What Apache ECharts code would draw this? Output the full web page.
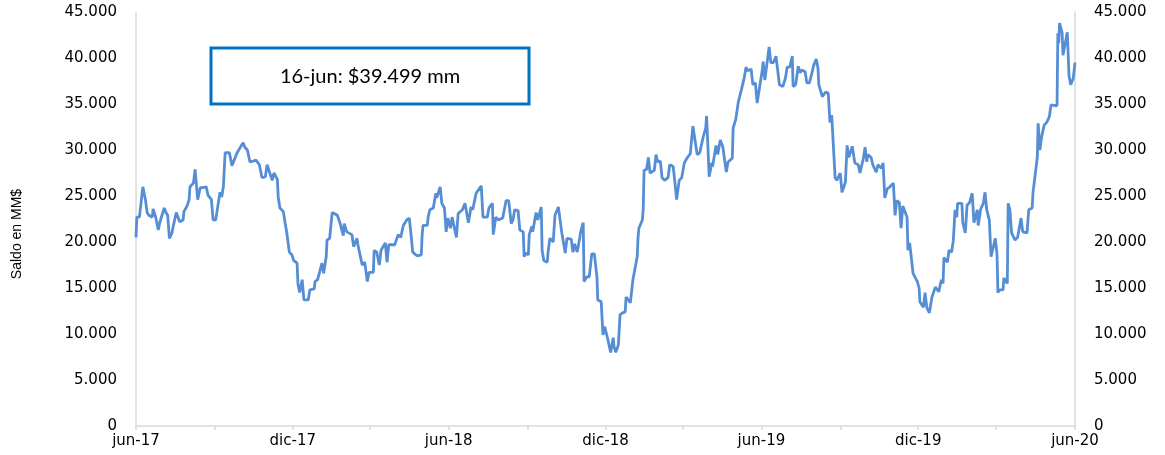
<!DOCTYPE html>
<html>
<head>
<meta charset="utf-8">
<script src="https://cdn.jsdelivr.net/npm/echarts@6/dist/echarts.min.js"></script>
<style>
html,body{margin:0;padding:0;background:#fff;}
#chart{width:1165px;height:455px;}
</style>
</head>
<body>
<div id="chart"></div>
<script>
// Axis range (dates) and labels
const startDate = '2017-06-16';
const endDate = '2020-06-16';
const monthNames = ['ene','feb','mar','abr','may','jun','jul','ago','sep','oct','nov','dic'];
const yTicks = [0, 5000, 10000, 15000, 20000, 25000, 30000, 35000, 40000, 45000];
const yAxisTitle = 'Saldo en MM$';
const noteText = '16-jun: $39.499 mm';

// Series: observation dates and balances (MM$)
const obsDates = [
'2017-06-16','2017-06-17','2017-06-20','2017-06-24','2017-06-27','2017-06-29','2017-07-01','2017-07-05','2017-07-06','2017-07-09',
'2017-07-12','2017-07-14','2017-07-16','2017-07-19','2017-07-21','2017-07-23','2017-07-25','2017-07-28','2017-07-29','2017-08-02',
'2017-08-04','2017-08-06','2017-08-10','2017-08-11','2017-08-15','2017-08-17','2017-08-18','2017-08-22','2017-08-24','2017-08-26',
'2017-08-27','2017-08-30','2017-09-02','2017-09-06','2017-09-08','2017-09-12','2017-09-14','2017-09-17','2017-09-20','2017-09-22',
'2017-09-24','2017-09-26','2017-09-28','2017-09-30','2017-10-03','2017-10-06','2017-10-08','2017-10-12','2017-10-14','2017-10-19',
'2017-10-21','2017-10-24','2017-10-27','2017-10-31','2017-11-03','2017-11-07','2017-11-10','2017-11-14','2017-11-16','2017-11-18',
'2017-11-22','2017-11-24','2017-11-28','2017-11-29','2017-12-01','2017-12-05','2017-12-07','2017-12-09','2017-12-12','2017-12-15',
'2017-12-17','2017-12-21','2017-12-22','2017-12-24','2017-12-27','2017-12-29','2018-01-03','2018-01-05','2018-01-10','2018-01-11',
'2018-01-14','2018-01-19','2018-01-21','2018-01-24','2018-01-25','2018-01-28','2018-01-31','2018-02-06','2018-02-09','2018-02-13',
'2018-02-14','2018-02-17','2018-02-23','2018-02-25','2018-03-01','2018-03-02','2018-03-04','2018-03-07','2018-03-10','2018-03-13',
'2018-03-15','2018-03-20','2018-03-21','2018-03-24','2018-03-27','2018-03-29','2018-04-03','2018-04-05','2018-04-07','2018-04-14',
'2018-04-18','2018-04-21','2018-04-24','2018-04-28','2018-05-01','2018-05-03','2018-05-05','2018-05-10','2018-05-15','2018-05-16',
'2018-05-17','2018-05-22','2018-05-23','2018-05-25','2018-05-29','2018-06-01','2018-06-02','2018-06-06','2018-06-08','2018-06-11',
'2018-06-13','2018-06-15','2018-06-18','2018-06-20','2018-06-22','2018-06-25','2018-06-27','2018-07-02','2018-07-05','2018-07-09',
'2018-07-12','2018-07-14','2018-07-18','2018-07-20','2018-07-24','2018-07-26','2018-07-31','2018-08-02','2018-08-06','2018-08-07',
'2018-08-10','2018-08-13','2018-08-18','2018-08-22','2018-08-25','2018-08-28','2018-08-30','2018-09-01','2018-09-05','2018-09-07',
'2018-09-11','2018-09-12','2018-09-14','2018-09-17','2018-09-18','2018-09-21','2018-09-22','2018-09-26','2018-09-28','2018-10-02',
'2018-10-03','2018-10-05','2018-10-09','2018-10-10','2018-10-12','2018-10-16','2018-10-18','2018-10-22','2018-10-24','2018-10-26',
'2018-10-30','2018-11-01','2018-11-06','2018-11-08','2018-11-10','2018-11-13','2018-11-16','2018-11-17','2018-11-20','2018-11-21',
'2018-11-24','2018-11-27','2018-11-30','2018-12-03','2018-12-06','2018-12-07','2018-12-11','2018-12-13','2018-12-15','2018-12-18',
'2018-12-20','2018-12-22','2018-12-25','2018-12-26','2018-12-28','2018-12-31','2019-01-02','2019-01-05','2019-01-08','2019-01-09',
'2019-01-11','2019-01-14','2019-01-17','2019-01-22','2019-01-23','2019-01-24','2019-01-28','2019-01-29','2019-01-30','2019-02-02',
'2019-02-04','2019-02-06','2019-02-08','2019-02-11','2019-02-13','2019-02-15','2019-02-18','2019-02-20','2019-02-23','2019-02-27',
'2019-03-01','2019-03-05','2019-03-07','2019-03-09','2019-03-12','2019-03-15','2019-03-18','2019-03-21','2019-03-25','2019-03-28',
'2019-03-30','2019-04-02','2019-04-05','2019-04-09','2019-04-12','2019-04-13','2019-04-16','2019-04-19','2019-04-20','2019-04-24',
'2019-04-26','2019-04-29','2019-05-02','2019-05-06','2019-05-08','2019-05-13','2019-05-14','2019-05-17','2019-05-20','2019-05-24',
'2019-05-27','2019-05-29','2019-05-31','2019-06-04','2019-06-06','2019-06-09','2019-06-11','2019-06-13','2019-06-14','2019-06-17',
'2019-06-18','2019-06-20','2019-06-23','2019-06-25','2019-06-27','2019-06-30','2019-07-03','2019-07-07','2019-07-11','2019-07-14',
'2019-07-16','2019-07-19','2019-07-22','2019-07-23','2019-07-26','2019-07-29','2019-07-31','2019-08-02','2019-08-06','2019-08-08',
'2019-08-11','2019-08-14','2019-08-16','2019-08-19','2019-08-21','2019-08-22','2019-08-26','2019-08-28','2019-08-30','2019-09-02',
'2019-09-04','2019-09-06','2019-09-08','2019-09-10','2019-09-12','2019-09-16','2019-09-18','2019-09-22','2019-09-24','2019-09-26',
'2019-09-30','2019-10-01','2019-10-03','2019-10-07','2019-10-09','2019-10-13','2019-10-15','2019-10-17','2019-10-18','2019-10-22',
'2019-10-24','2019-10-25','2019-10-28','2019-10-30','2019-11-03','2019-11-05','2019-11-07','2019-11-10','2019-11-13','2019-11-17',
'2019-11-19','2019-11-21','2019-11-24','2019-11-26','2019-11-28','2019-12-03','2019-12-04','2019-12-06','2019-12-10','2019-12-15',
'2019-12-17','2019-12-18','2019-12-22','2019-12-24','2019-12-26','2019-12-29','2020-01-01','2020-01-05','2020-01-07','2020-01-09',
'2020-01-12','2020-01-14','2020-01-15','2020-01-19','2020-01-21','2020-01-24','2020-01-26','2020-01-28','2020-01-30','2020-01-31',
'2020-02-05','2020-02-06','2020-02-09','2020-02-11','2020-02-14','2020-02-17','2020-02-19','2020-02-23','2020-02-24','2020-02-27',
'2020-03-01','2020-03-03','2020-03-05','2020-03-08','2020-03-10','2020-03-12','2020-03-15','2020-03-17','2020-03-18','2020-03-20',
'2020-03-24','2020-03-25','2020-03-29','2020-03-30','2020-04-01','2020-04-03','2020-04-07','2020-04-10','2020-04-14','2020-04-16',
'2020-04-21','2020-04-23','2020-04-27','2020-04-28','2020-04-29','2020-05-03','2020-05-04','2020-05-06','2020-05-08','2020-05-11',
'2020-05-14','2020-05-17','2020-05-19','2020-05-21','2020-05-26','2020-05-27','2020-05-28','2020-05-29','2020-06-01','2020-06-02',
'2020-06-04','2020-06-07','2020-06-08','2020-06-09','2020-06-11','2020-06-14','2020-06-16'
];
const saldo = [
20500,22700,22700,26000,24600,23200,22900,22700,23600,22700,
21300,22200,22000,23700,23200,22900,20400,21000,21500,23200,
22700,22200,22400,23300,24000,24600,26000,26400,27900,27700,
24600,25900,25900,26000,25100,24600,22400,22400,24200,25400,
24900,26000,29700,29700,29700,28300,28200,29700,29700,30800,
30300,30000,28700,28800,28900,28400,27000,27100,28400,28400,
26700,27500,26800,24900,23700,23300,22100,21000,18900,18600,
18000,17700,15500,14500,15900,13700,13700,14800,14900,15700,
15900,17700,16600,18400,20200,20400,23200,22900,22100,20700,
22000,21100,20800,19500,20400,19700,19700,17500,17800,15700,
16700,16700,19100,18900,17500,19100,19900,17800,19700,19700,
20800,20500,21800,22400,22600,20800,18900,18500,18600,20800,
21800,21800,22700,23500,23700,25300,24800,26000,24200,23700,
21100,22600,21500,22700,22900,20500,23100,23500,24200,22100,
23800,23500,25300,25400,26100,22700,22700,23700,24200,20800,
22700,22400,22600,24500,24500,22000,22400,23500,23400,21300,
21100,18400,18800,18600,20800,21700,21100,23200,22400,23800,
19100,18000,17800,18900,20400,20000,22900,23800,22400,21000,
18800,20400,20300,18900,19800,18900,20500,21100,22100,15700,
16200,16200,18700,18700,16200,13700,13500,9900,10800,9700,
9700,8000,9600,8600,8000,8800,12100,12300,12400,14000,
14200,13400,15900,18400,20500,21500,22400,23500,27800,27900,
29200,27500,27300,27800,29500,28700,28800,27000,26700,27000,
28400,28200,26500,24600,26700,27000,28600,29100,29600,32600,
32400,29500,29700,31400,32400,33700,27100,28600,28200,30500,
29500,31100,30300,27600,28700,29100,32400,33300,35200,36700,
37900,39000,38600,38800,37100,37300,35100,36300,36900,38700,
39600,37600,39800,41200,39500,39500,40200,37100,36900,37800,
39000,39000,40200,36900,37100,39100,38400,38700,38500,37300,
37300,38400,39200,39900,38900,37100,35800,35700,36300,36200,
33000,33800,33800,27000,26700,27500,25400,26500,30500,29200,
30400,30500,28600,28400,27500,29100,30300,28700,29500,29200,
28400,28600,27600,28400,28000,28600,24800,25800,26000,26400,
22900,24500,24300,21500,23900,22700,19100,19900,16600,15700,
15000,13500,12900,14500,12900,12300,14000,15100,15300,14600,
15900,15500,18300,17800,19100,18900,20200,23500,22700,24200,
24200,22100,21000,24000,24300,25300,22100,23500,21800,23600,
24200,25400,23500,22400,18400,18300,20400,18600,14500,14800,
14800,16100,15500,24200,23500,21000,20200,20500,22600,21100,
21000,23500,23700,25400,25400,29200,32900,30000,31400,32700,
33000,33600,34900,34700,34800,42700,41600,43800,42700,40300,
40300,42800,40500,38100,37100,37800,39499
];

// ---- build daily category axis ----
function iso(t){ const d = new Date(t); return d.toISOString().slice(0,10); }
const categories = [];
(function(){
  const s = Date.parse(startDate + 'T00:00:00Z'), e = Date.parse(endDate + 'T00:00:00Z');
  for (let t = s; t <= e; t += 86400000) categories.push(iso(t));
})();
const valueByDate = {};
obsDates.forEach((d, i) => { valueByDate[d] = saldo[i]; });
const seriesData = categories.map(d => (d in valueByDate ? valueByDate[d] : null));

function fmtThousands(v){
  if (v === 0) return '0';
  const k = Math.floor(v / 1000), r = v % 1000;
  return k + '.' + String(r).padStart(3, '0');
}
function isLabelDay(d){ return /-(06|12)-16$/.test(d); }
function isTickDay(d){ return /-(03|06|09|12)-16$/.test(d); }

const axisGray = '#d9d9d9';
const labelFont = { color: '#000', fontFamily: 'DejaVu Sans', fontSize: 15 };

const yBase = {
  type: 'value', min: yTicks[0], max: yTicks[yTicks.length - 1], interval: yTicks[1] - yTicks[0],
  splitLine: { show: false },
  axisTick: { show: false },
  axisLine: { show: true, lineStyle: { color: axisGray, width: 1.5 } },
  axisLabel: Object.assign({ margin: 19, formatter: fmtThousands }, labelFont)
};

const chart = echarts.init(document.getElementById('chart'), null, { renderer: 'canvas' });
chart.setOption({
  animation: false,
  backgroundColor: '#fff',
  grid: { left: 136, right: 90, top: 12, bottom: 29 },
  xAxis: {
    type: 'category', data: categories, boundaryGap: false,
    axisLine: { show: true, lineStyle: { color: axisGray, width: 1.5 } },
    axisTick: { show: true, length: 4, lineStyle: { color: axisGray, width: 1.5 },
      interval: (idx, val) => isTickDay(val) },
    axisLabel: Object.assign({
      margin: 8, showMinLabel: true, showMaxLabel: true,
      interval: (idx, val) => isLabelDay(val),
      formatter: (val) => monthNames[parseInt(val.slice(5,7),10) - 1] + '-' + val.slice(2,4)
    }, labelFont),
    splitLine: { show: false }
  },
  yAxis: [
    Object.assign({}, yBase, { position: 'left' }),
    Object.assign({}, yBase, { position: 'right' })
  ],
  series: [{
    type: 'line', data: seriesData, connectNulls: true, showSymbol: false, symbol: 'none',
    lineStyle: { color: '#558ED5', width: 2.8 }, itemStyle: { color: '#558ED5' }
  }],
  graphic: [
    { type: 'text', x: 17, y: 234, rotation: Math.PI / 2,
      style: { text: yAxisTitle, fill: '#000', font: '14px "Liberation Sans Narrow", "Liberation Sans"',
        align: 'center', verticalAlign: 'middle' } },
    { type: 'rect', shape: { x: 211, y: 48, width: 318, height: 56 },
      style: { fill: '#fff', stroke: '#0070C0', lineWidth: 3 }, z: 100 },
    { type: 'text', x: 370, y: 77, z: 101,
      style: { text: noteText, fill: '#000', font: '20px Lato', align: 'center', verticalAlign: 'middle' } }
  ]
});
</script>
</body>
</html>
